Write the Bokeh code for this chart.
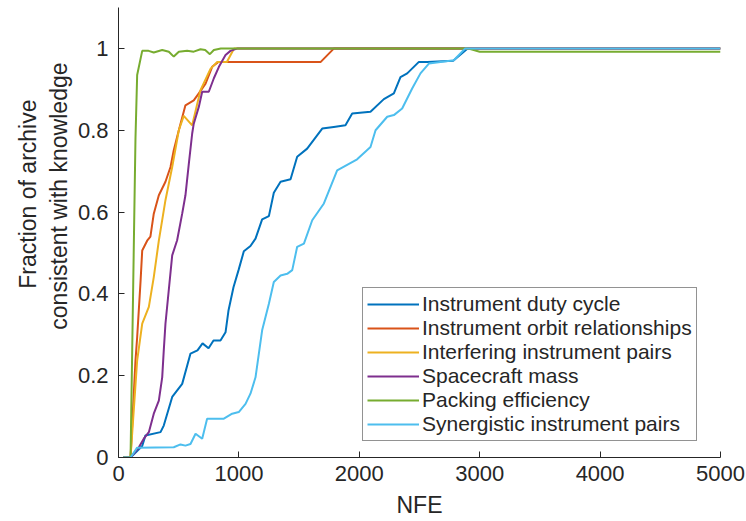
from bokeh.embed import file_html
from bokeh.models import (CustomJSTickFormatter, FixedTicker, Legend,
                          LegendItem, Range1d, Title)
from bokeh.plotting import figure
from bokeh.resources import INLINE

# Fraction of the archive consistent with each knowledge rule, versus NFE
duty_nfe = [40, 100, 197, 224, 349, 376, 446, 529, 598, 656, 698, 748, 789, 847,
            889, 914, 955, 997, 1041, 1096, 1138, 1193, 1249, 1290, 1346, 1429,
            1484, 1567, 1692, 1788, 1885, 1941, 2093, 2204, 2287, 2342, 2398,
            2495, 2564, 2780, 2900, 5000]
duty_val = [0, 0, 0.028, 0.054, 0.062, 0.078, 0.148, 0.18, 0.254, 0.262, 0.279,
            0.267, 0.286, 0.286, 0.306, 0.36, 0.416, 0.458, 0.504, 0.517, 0.535,
            0.582, 0.59, 0.647, 0.674, 0.68, 0.735, 0.755, 0.804, 0.808, 0.812,
            0.841, 0.845, 0.876, 0.89, 0.93, 0.939, 0.967, 0.967, 0.97, 1.0, 1.0]

orbit_nfe = [40, 100, 141, 155, 183, 197, 238, 265, 293, 335, 390, 432, 459, 501,
             556, 625, 667, 723, 778, 830, 1680, 1790, 5000]
orbit_val = [0, 0, 0.237, 0.294, 0.43, 0.506, 0.53, 0.54, 0.596, 0.641, 0.674,
             0.71, 0.751, 0.8, 0.861, 0.873, 0.89, 0.914, 0.955, 0.967, 0.967,
             1.0, 1.0]

interf_nfe = [40, 100, 155, 197, 252, 293, 335, 390, 446, 501, 542, 612, 681,
              764, 820, 900, 960, 5000]
interf_val = [0, 0, 0.237, 0.327, 0.368, 0.441, 0.53, 0.629, 0.71, 0.8, 0.835,
              0.812, 0.898, 0.95, 0.967, 0.967, 1.0, 1.0]

mass_nfe = [40, 100, 169, 210, 252, 293, 335, 363, 376, 390, 446, 487, 529, 556,
            584, 612, 625, 667, 695, 750, 792, 834, 889, 930, 990, 5000]
mass_val = [0, 0, 0.025, 0.046, 0.062, 0.107, 0.139, 0.196, 0.262, 0.327, 0.494,
            0.531, 0.596, 0.641, 0.718, 0.792, 0.816, 0.857, 0.894, 0.894, 0.927,
            0.955, 0.984, 0.994, 1.0, 1.0]

pack_nfe = [40, 100, 141, 155, 197, 250, 293, 363, 418, 459, 501, 570, 625, 681,
            720, 759, 792, 850, 2900, 3000, 5000]
pack_val = [0, 0, 0.78, 0.935, 0.994, 0.994, 0.99, 0.996, 0.992, 0.98, 0.992,
            0.994, 0.992, 0.998, 0.996, 0.986, 0.996, 1.0, 1.0, 0.992, 0.992]

syn_nfe = [40, 100, 155, 459, 515, 556, 598, 640, 695, 736, 875, 944, 999, 1055,
           1096, 1138, 1193, 1249, 1290, 1346, 1401, 1443, 1484, 1540, 1609, 1706,
           1816, 1982, 2093, 2135, 2232, 2287, 2356, 2439, 2508, 2578, 2785, 2880,
           5000]
syn_val = [0, 0, 0.024, 0.025, 0.032, 0.029, 0.033, 0.058, 0.046, 0.095, 0.095,
           0.107, 0.111, 0.131, 0.156, 0.196, 0.311, 0.376, 0.429, 0.445, 0.449,
           0.458, 0.515, 0.523, 0.58, 0.621, 0.702, 0.729, 0.759, 0.8, 0.833,
           0.837, 0.853, 0.902, 0.939, 0.963, 0.971, 1.0, 1.0]

series_names = ["Instrument duty cycle", "Instrument orbit relationships",
                "Interfering instrument pairs", "Spacecraft mass",
                "Packing efficiency", "Synergistic instrument pairs"]
series_colors = ["#0072BD", "#D95319", "#EDB120", "#7E2F8E", "#77AC30", "#4DBEEE"]
series_data = [(duty_nfe, duty_val), (orbit_nfe, orbit_val),
               (interf_nfe, interf_val), (mass_nfe, mass_val),
               (pack_nfe, pack_val), (syn_nfe, syn_val)]

x_ticks = [0, 1000, 2000, 3000, 4000, 5000]
y_ticks = [0, 0.2, 0.4, 0.6, 0.8, 1]
y_label_lines = ["Fraction of archive", "consistent with knowledge"]

FONT = "Liberation Sans"
INK = "#262626"

p = figure(width=746, height=521, output_backend="svg", toolbar_location=None,
           x_range=Range1d(0, 5000), y_range=Range1d(0, 1.1),
           min_border_left=118, min_border_right=26, min_border_top=7,
           min_border_bottom=64)
p.outline_line_color = None
p.grid.visible = False
p.background_fill_color = "white"
p.border_fill_color = "white"

items = []
for name, color, (xs, ys) in zip(series_names, series_colors, series_data):
    r = p.line(xs, ys, line_color=color, line_width=2)
    items.append(LegendItem(label=name, renderers=[r]))

for ax in (p.xaxis[0], p.yaxis[0]):
    ax.axis_line_color = INK
    ax.major_tick_line_color = INK
    ax.major_tick_in = 6
    ax.major_tick_out = 0
    ax.minor_tick_line_color = None
    ax.major_label_text_font = FONT
    ax.major_label_text_font_size = "22px"
    ax.major_label_text_color = INK

p.xaxis.major_label_standoff = 8
p.yaxis.major_label_standoff = 10
p.xaxis.ticker = FixedTicker(ticks=x_ticks)
p.yaxis.ticker = FixedTicker(ticks=y_ticks)
p.yaxis.formatter = CustomJSTickFormatter(code="return String(tick)")

p.xaxis.axis_label = "NFE"
p.xaxis.axis_label_text_font = FONT
p.xaxis.axis_label_text_font_size = "23px"
p.xaxis.axis_label_text_font_style = "normal"
p.xaxis.axis_label_text_color = INK
p.xaxis.axis_label_standoff = 8

# two-line y label: inner line next to the axis, outer line beyond it
for txt, off, gap in [(y_label_lines[1], 55, 6), (y_label_lines[0], 92, 0)]:
    p.add_layout(Title(text=txt, align="right", offset=off, standoff=gap,
                       text_font=FONT, text_font_size="23px",
                       text_font_style="normal", text_color=INK), "left")

legend = Legend(items=items, location=(244, 16), padding=4, spacing=-2,
                glyph_width=52, glyph_height=22, label_height=22,
                label_standoff=3, label_text_font=FONT,
                label_text_font_size="21px", label_text_color=INK,
                border_line_color=INK, border_line_width=1,
                background_fill_color="white", background_fill_alpha=1.0,
                margin=0)
p.add_layout(legend, "center")

open("out.html", "w").write(file_html(p, INLINE))
